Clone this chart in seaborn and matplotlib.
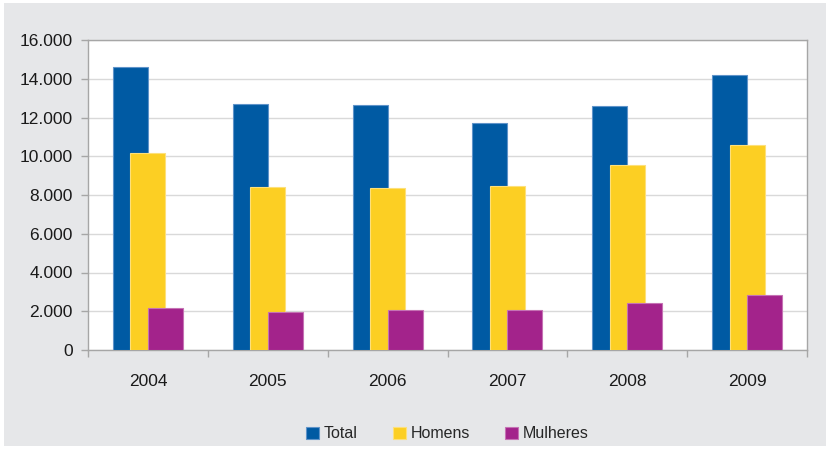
import matplotlib
matplotlib.use('Agg')
import matplotlib.pyplot as plt
import matplotlib.ticker as mticker
from matplotlib.patches import Rectangle
import numpy as np
import pandas as pd
import seaborn as sns

# Data
years = [2004, 2005, 2006, 2007, 2008, 2009]
total = [14600, 12680, 12650, 11710, 12570, 14180]
homens = [10170, 8400, 8340, 8490, 9550, 10570]
mulheres = [2170, 1950, 2080, 2040, 2450, 2830]
series_names = ['Total', 'Homens', 'Mulheres']
colors = ['#005aa3', '#fccf23', '#a3238b']
edges = ['#5f93c9', '#fde07a', '#c572b4']

sns.set_theme(style='white')
plt.rcParams['font.family'] = ['Liberation Sans', 'DejaVu Sans']

bg = '#e6e7e9'
fig = plt.figure(figsize=(8.26, 4.49), dpi=100, facecolor='white')
fig.patches.append(Rectangle((4 / 826, 3 / 449), 822 / 826, 443 / 449,
                             transform=fig.transFigure, facecolor=bg,
                             edgecolor='none', zorder=-10))
ax = fig.add_axes([88 / 826, 99 / 449, 719 / 826, 310 / 449])
ax.set_facecolor('white')

bar_w = 35 / 120
offsets = [-bar_w / 2, 0, bar_w / 2]
for name, vals, off, c, ec in zip(series_names, [total, homens, mulheres], offsets, colors, edges):
    df = pd.DataFrame({'x': np.array(years) + off, 'y': vals})
    sns.barplot(data=df, x='x', y='y', native_scale=True, width=bar_w,
                color=c, saturation=1, edgecolor=ec, linewidth=0.8,
                label=name, ax=ax, zorder=3)

ax.set_xlim(2003.5, 2009.5)
ax.set_ylim(0, 16000)
ax.set_xticks(years)
ax.set_xticks(np.arange(2003.5, 2010, 1), minor=True)
ax.set_yticks(np.arange(0, 16001, 2000))
ax.yaxis.set_major_formatter(mticker.FuncFormatter(lambda v, p: f'{int(v):,}'.replace(',', '.')))
ax.set_xlabel('')
ax.set_ylabel('')
ax.grid(axis='y', color='#d9d9d9', linewidth=1, zorder=0)
ax.grid(axis='x', visible=False)
ax.set_axisbelow(True)
for s in ax.spines.values():
    s.set_color('#a6a6a6')
    s.set_linewidth(1)
ax.tick_params(axis='x', which='major', length=0, pad=17, labelsize=12.5, colors='#1a1a1a')
ax.tick_params(axis='x', which='minor', length=5, color='#a6a6a6', width=1, bottom=True)
ax.tick_params(axis='y', length=5, color='#a6a6a6', width=1, left=True, pad=6,
               labelsize=12.5, labelcolor='#1a1a1a')

ax.legend(loc='upper center', bbox_to_anchor=(0.5, -0.2), ncol=3, frameon=False,
          fontsize=11.5, handlelength=0.8, handleheight=0.8, handletextpad=0.3,
          columnspacing=2.2)

fig.savefig('out.png', dpi=100, facecolor='white')
